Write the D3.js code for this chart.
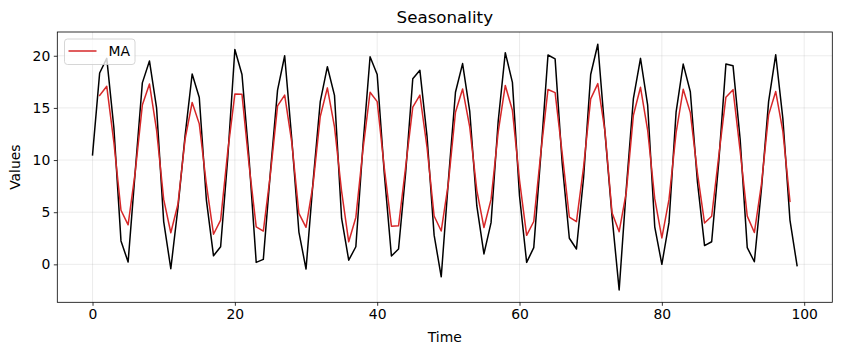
<!DOCTYPE html>
<html>
<head>
<meta charset="utf-8">
<script src="https://cdn.jsdelivr.net/npm/d3@7"></script>
<style>
  html, body { margin: 0; padding: 0; background: #fff; }
  svg { display: block; font-family: "DejaVu Sans", sans-serif; }
</style>
</head>
<body>
<svg id="chart" width="841" height="355"></svg>
<script>
const title = "Seasonality";
const xLabel = "Time";
const yLabel = "Values";
const legendLabel = "MA";

const timeIndex = d3.range(0, 100);
const values = [
  10.5, 18.35, 19.75, 13.1, 2.25, 0.22, 8.9, 17.4, 19.5, 15.0,
  4.1, -0.42, 5.4, 12.3, 18.25, 16.0, 6.15, 0.82, 1.69, 10.2,
  20.6, 18.2, 10.1, 0.19, 0.48, 8.9, 16.7, 20.0, 12.0, 3.1,
  -0.45, 8.0, 15.6, 18.95, 16.2, 4.4, 0.4, 1.69, 11.4, 19.9,
  18.2, 8.7, 0.8, 1.47, 8.8, 17.8, 18.6, 12.3, 2.8, -1.19,
  8.0, 16.5, 19.25, 14.7, 5.6, 1.0, 4.0, 13.7, 20.3, 17.45,
  6.55, 0.19, 1.6, 10.55, 20.07, 19.7, 9.65, 2.5, 1.47, 8.3,
  18.2, 21.1, 12.7, 4.6, -2.46, 7.25, 15.9, 19.75, 15.3, 3.6,
  0.0, 4.0, 14.6, 19.2, 16.55, 7.9, 1.8, 2.17, 9.85, 19.2,
  19.05, 12.0, 1.6, 0.25, 7.3, 15.6, 20.1, 14.0, 4.25, -0.13
];
// moving average (centered, window 3); undefined at both ends
const maValues = [
  null, 16.2, 17.07, 11.7, 5.19, 3.79, 8.84, 15.27, 17.3, 12.87,
  6.23, 3.03, 5.76, 11.98, 15.52, 13.47, 7.66, 2.89, 4.24, 10.83,
  16.33, 16.3, 9.5, 3.59, 3.19, 8.69, 15.2, 16.23, 11.7, 4.88,
  3.55, 7.72, 14.18, 16.92, 13.18, 7.0, 2.16, 4.5, 11.0, 16.5,
  15.6, 9.23, 3.66, 3.69, 9.36, 15.07, 16.23, 11.23, 4.64, 3.2,
  7.77, 14.58, 16.82, 13.18, 7.1, 3.53, 6.23, 12.67, 17.15, 14.77,
  8.06, 2.78, 4.11, 10.74, 16.77, 16.47, 10.62, 4.54, 4.09, 9.32,
  15.87, 17.33, 12.8, 4.95, 3.13, 6.9, 14.3, 16.98, 12.88, 6.3,
  2.53, 6.2, 12.6, 16.78, 14.55, 8.75, 3.96, 4.61, 10.41, 16.03,
  16.75, 10.88, 4.62, 3.05, 7.72, 14.33, 16.57, 12.78, 6.04, null
];
const xTicks = [0, 20, 40, 60, 80, 100];
const yTicks = [0, 5, 10, 15, 20];

const svg = d3.select("#chart");
const pLeft = 57.3, pRight = 832.3, pTop = 32, pBottom = 302.3;

const xMin = d3.min(timeIndex), xMax = d3.max(timeIndex);
const xPad = (xMax - xMin) * 0.05;
const yMin = d3.min(values), yMax = d3.max(values);
const yPad = (yMax - yMin) * 0.05;

const x = d3.scaleLinear().domain([xMin - xPad, xMax + xPad]).range([pLeft, pRight]);
const y = d3.scaleLinear().domain([yMin - yPad, yMax + yPad]).range([pBottom, pTop]);

// grid
const grid = svg.append("g");
grid.selectAll("line.gx").data(xTicks).join("line")
  .attr("x1", d => x(d)).attr("x2", d => x(d))
  .attr("y1", pTop).attr("y2", pBottom)
  .attr("stroke", "#b0b0b0").attr("stroke-opacity", 0.3).attr("stroke-width", 0.8);
grid.selectAll("line.gy").data(yTicks).join("line")
  .attr("x1", pLeft).attr("x2", pRight)
  .attr("y1", d => y(d)).attr("y2", d => y(d))
  .attr("stroke", "#b0b0b0").attr("stroke-opacity", 0.3).attr("stroke-width", 0.8);

// lines
const lineMain = d3.line().x((d, i) => x(timeIndex[i])).y(d => y(d));
svg.append("path").datum(values)
  .attr("d", lineMain)
  .attr("fill", "none").attr("stroke", "#000").attr("stroke-width", 1.5)
  .attr("stroke-linejoin", "round").attr("stroke-linecap", "square");

const lineMA = d3.line()
  .defined(d => d != null)
  .x((d, i) => x(timeIndex[i])).y(d => y(d));
svg.append("path").datum(maValues)
  .attr("d", lineMA)
  .attr("fill", "none").attr("stroke", "#d62728").attr("stroke-width", 1.5)
  .attr("stroke-linejoin", "round").attr("stroke-linecap", "square");

// axes
const xAxis = d3.axisBottom(x).tickValues(xTicks).tickSize(3.5).tickPadding(3.5).tickFormat(d3.format("d"));
const yAxis = d3.axisLeft(y).tickValues(yTicks).tickSize(3.5).tickPadding(3.5).tickFormat(d3.format("d"));

const gx = svg.append("g").attr("transform", `translate(0,${pBottom})`).call(xAxis);
const gy = svg.append("g").attr("transform", `translate(${pLeft},0)`).call(yAxis);
[gx, gy].forEach(g => {
  g.select(".domain").remove();
  g.selectAll(".tick line").attr("stroke", "#000").attr("stroke-width", 0.8);
  g.selectAll(".tick text").attr("fill", "#000").attr("font-size", "13.9px")
    .attr("font-family", "DejaVu Sans, sans-serif");
});

// frame
svg.append("rect").attr("x", pLeft).attr("y", pTop)
  .attr("width", pRight - pLeft).attr("height", pBottom - pTop)
  .attr("fill", "none").attr("stroke", "#000").attr("stroke-width", 0.8);

// title and labels
svg.append("text").attr("x", (pLeft + pRight) / 2).attr("y", 23)
  .attr("text-anchor", "middle").attr("font-size", "16.7px").attr("fill", "#000").text(title);
svg.append("text").attr("x", (pLeft + pRight) / 2).attr("y", 342)
  .attr("text-anchor", "middle").attr("font-size", "13.9px").attr("fill", "#000").text(xLabel);
svg.append("text").attr("transform", `translate(20,${(pTop + pBottom) / 2}) rotate(-90)`)
  .attr("text-anchor", "middle").attr("font-size", "13.9px").attr("fill", "#000").text(yLabel);

// legend
const lg = svg.append("g");
lg.append("rect").attr("x", 64.5).attr("y", 39).attr("width", 70.5).attr("height", 25.5)
  .attr("rx", 3).attr("fill", "#fff").attr("fill-opacity", 0.8)
  .attr("stroke", "#cccccc").attr("stroke-width", 0.8);
lg.append("line").attr("x1", 68.5).attr("x2", 96.5).attr("y1", 51).attr("y2", 51)
  .attr("stroke", "#d62728").attr("stroke-width", 1.5);
lg.append("text").attr("x", 108.5).attr("y", 56).attr("font-size", "13.9px").attr("fill", "#000").text(legendLabel);
</script>
</body>
</html>
